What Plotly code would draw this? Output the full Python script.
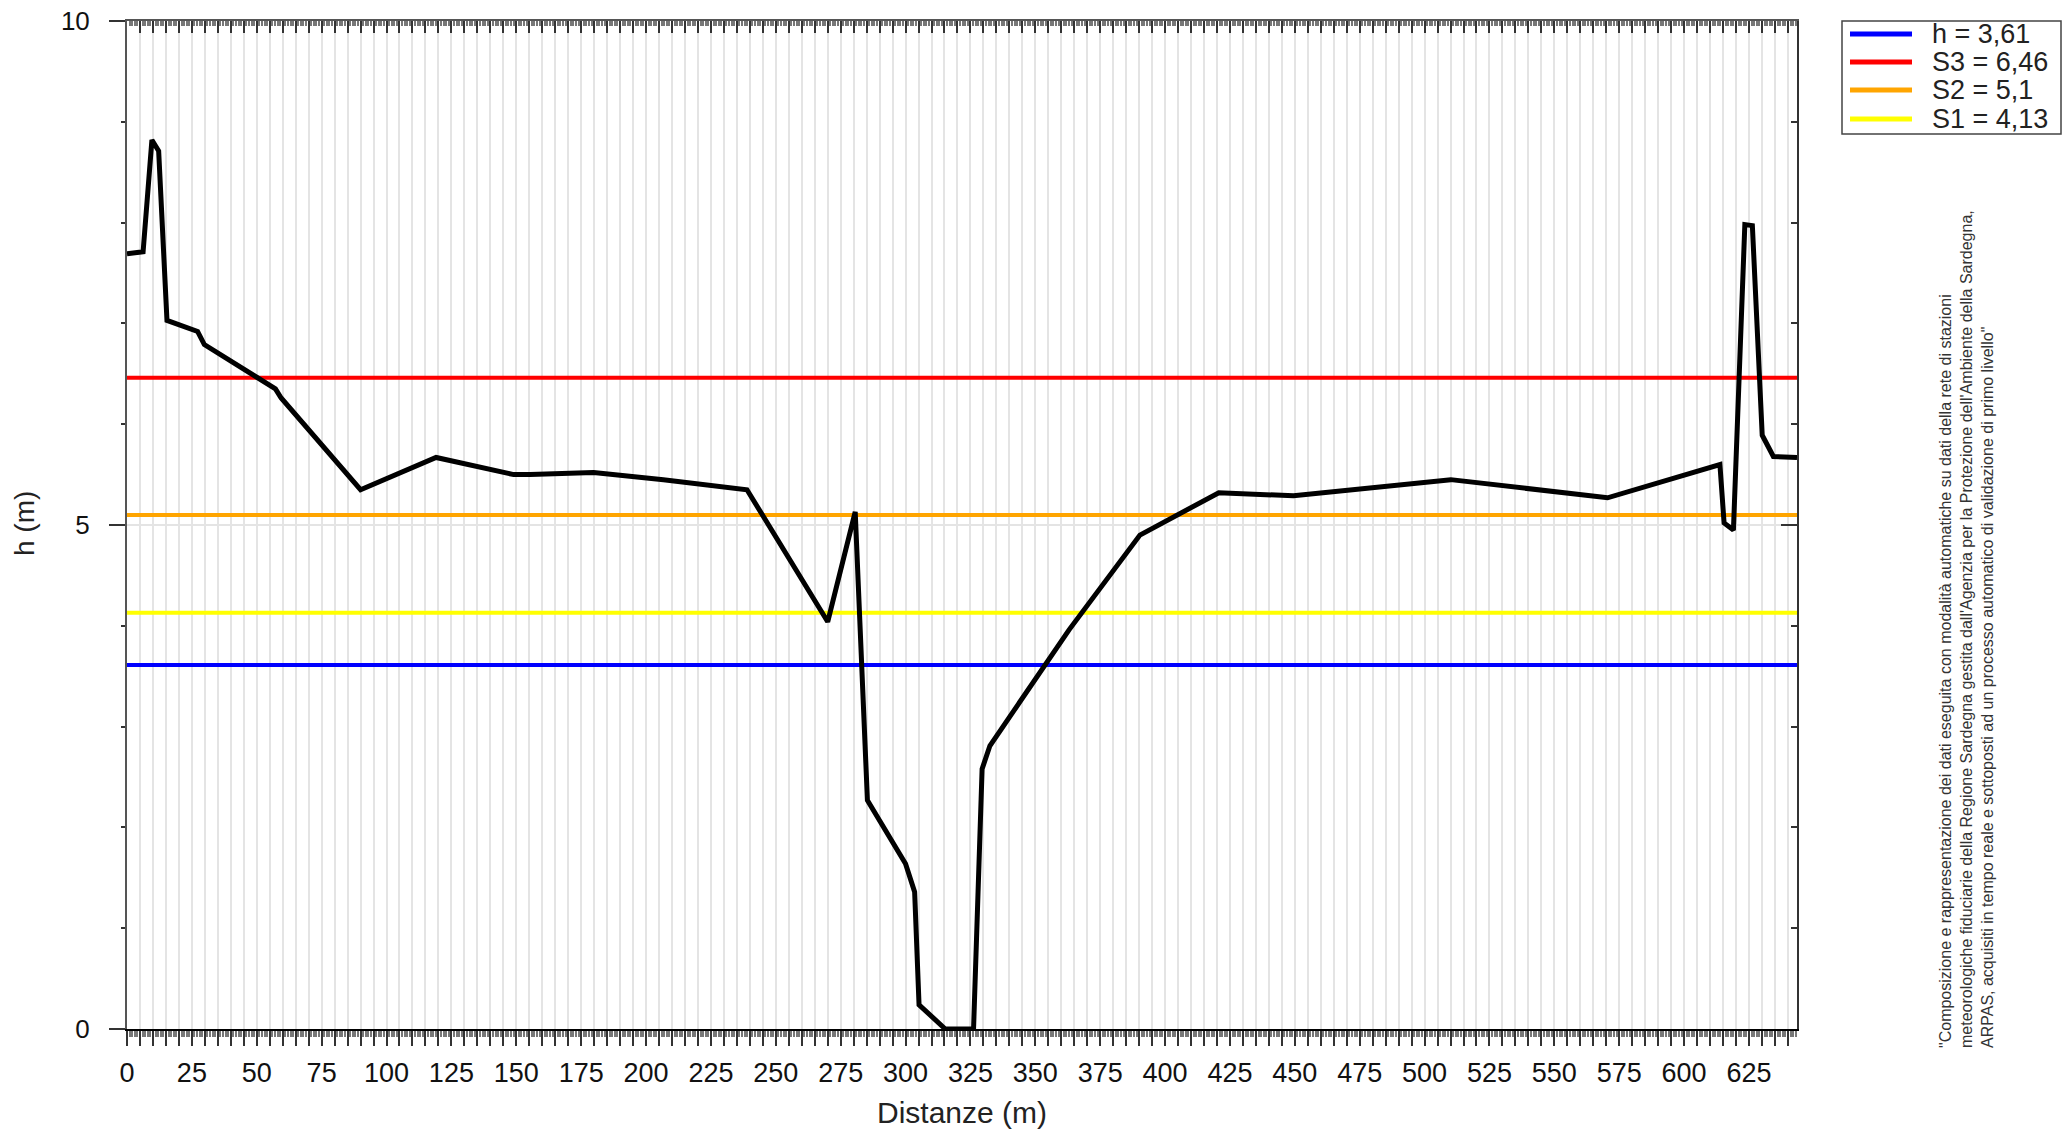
import plotly.graph_objects as go

# ---------------- data ----------------
distanze = [0, 6.2, 9.6, 12.2, 15.4, 27.2, 29.8, 57.2, 59.4, 90.0, 119.1, 149.0,
            155.3, 172.1, 179.8, 206.7, 238.9, 270.0, 280.6, 285.3, 300.0, 303.5,
            305.2, 315.3, 326.2, 329.5, 332.5, 363.0, 390.3, 420.7, 449.5, 510.1,
            570.5, 613.8, 615.4, 619.0, 623.4, 626.3, 630.1, 634.4, 643.5]
quote = [7.69, 7.71, 8.82, 8.71, 7.03, 6.92, 6.79, 6.35, 6.26, 5.35, 5.67, 5.50,
         5.50, 5.51, 5.52, 5.45, 5.35, 4.04, 5.13, 2.27, 1.64, 1.36,
         0.24, 0.0, 0.0, 2.58, 2.81, 3.96, 4.90, 5.32, 5.29, 5.45,
         5.27, 5.60, 5.02, 4.95, 7.98, 7.97, 5.89, 5.68, 5.67]

soglie_nomi = ["h", "S3", "S2", "S1"]
soglie_valori = [3.61, 6.46, 5.1, 4.13]
soglie_colori = ["#0000FF", "#FF0000", "#FFA500", "#FFFF00"]

x_tick_labels = list(range(0, 626, 25))
y_tick_labels = [0, 5, 10]
x_grid_step = 5
x_max = 643.5
y_max = 10

nota = ('"Composizione e rappresentazione dei dati eseguita con modalità automatiche su dati della rete di stazioni<br>'
        "meteorologiche fiduciarie della Regione Sardegna gestita dall'Agenzia per la Protezione dell'Ambiente della Sardegna,<br>"
        'ARPAS, acquisiti in tempo reale e sottoposti ad un processo automatico di validazione di primo livello"')

# ---------------- geometry (reference pixels) ----------------
W, H = 2065, 1130
L, R, T, B = 127, 1797, 21, 1029
PW, PH = R - L, B - T


def px_x(px):
    return (px - L) / PW


def px_y(py):
    return (B - py) / PH


FONT = "Liberation Sans, Arial, sans-serif"

fig = go.Figure()

# threshold lines
for nome, val, col in zip(soglie_nomi, soglie_valori, soglie_colori):
    fig.add_trace(go.Scatter(x=[0, x_max], y=[val, val], mode="lines",
                             line=dict(color=col, width=4), showlegend=False,
                             hoverinfo="skip"))

# profile
fig.add_trace(go.Scatter(x=distanze, y=quote, mode="lines",
                         line=dict(color="black", width=5), showlegend=False))

# dummy trace for top/right axes
fig.add_trace(go.Scatter(x=[0], y=[0], xaxis="x2", yaxis="y2", mode="lines",
                         line=dict(width=0), showlegend=False, hoverinfo="skip"))

x_tickvals = list(range(0, int(x_max) + 1, x_grid_step))
x_ticktext = [str(v) if v in x_tick_labels else "" for v in x_tickvals]

fig.update_layout(
    width=W, height=H,
    margin=dict(l=L, r=W - R, t=T, b=H - B, autoexpand=False),
    paper_bgcolor="white", plot_bgcolor="white",
    font=dict(family=FONT, color="#111111"),
    showlegend=False,
    xaxis=dict(range=[0, x_max], tickmode="array", tickvals=x_tickvals,
               ticktext=x_ticktext, ticks="outside", ticklen=15, tickwidth=1.5,
               tickcolor="#333333", showgrid=True, gridcolor="#e4e4e4", gridwidth=2,
               showline=True, linecolor="black", linewidth=2, zeroline=False,
               tickfont=dict(size=27, family=FONT, color="#111111"),
               ticklabelstandoff=4, automargin=False, ticklabeloverflow="allow",
               minor=dict(dtick=1, tick0=0, ticks="outside", ticklen=6,
                          tickcolor="#777777", tickwidth=1.5, showgrid=False)),
    yaxis=dict(range=[0, y_max], tickmode="array", tickvals=y_tick_labels,
               ticks="outside", ticklen=16, tickwidth=1.5, tickcolor="#333333",
               showgrid=True, gridcolor="#e4e4e4", gridwidth=2,
               showline=True, linecolor="#555555", linewidth=2, zeroline=False,
               tickfont=dict(size=26, family=FONT, color="#111111"),
               ticklabelstandoff=14, automargin=False, ticklabeloverflow="allow",
               minor=dict(dtick=1, tick0=0, ticks="outside", ticklen=4,
                          tickcolor="#333333", tickwidth=1.5, showgrid=False)),
    xaxis2=dict(range=[0, x_max], overlaying="x", side="top", anchor="y2",
                tickmode="array", tickvals=x_tickvals, ticktext=[""] * len(x_tickvals),
                ticks="inside", ticklen=12, tickwidth=1.5, tickcolor="#333333",
                showgrid=False, showline=True, linecolor="#555555", linewidth=2,
                zeroline=False, automargin=False,
                minor=dict(dtick=1, tick0=0, ticks="inside", ticklen=5,
                           tickcolor="#777777", tickwidth=1.5, showgrid=False)),
    yaxis2=dict(range=[0, y_max], overlaying="y", side="right", anchor="x2",
                tickmode="array", tickvals=y_tick_labels, ticktext=["", "", ""],
                ticks="inside", ticklen=16, tickwidth=1.5, tickcolor="#333333",
                showgrid=False, showline=True, linecolor="#333333", linewidth=2,
                zeroline=False, automargin=False,
                minor=dict(dtick=1, tick0=0, ticks="inside", ticklen=6,
                           tickcolor="#333333", tickwidth=1.5, showgrid=False)),
)

# axis titles
fig.add_annotation(text="Distanze (m)", xref="paper", yref="paper",
                   x=0.5, y=px_y(1112), xanchor="center", yanchor="middle",
                   showarrow=False, font=dict(size=30, family=FONT, color="#222222"))
fig.add_annotation(text="h (m)", xref="paper", yref="paper",
                   x=px_x(24), y=px_y(524), xanchor="center", yanchor="middle",
                   textangle=-90, showarrow=False,
                   font=dict(size=28, family=FONT, color="#222222"))

# legend (manual box)
fig.add_shape(type="rect", xref="paper", yref="paper",
              x0=px_x(1842), x1=px_x(2061), y0=px_y(134), y1=px_y(21),
              line=dict(color="#444444", width=1.5), fillcolor="white", layer="above")
row_y = [34, 62, 90, 119]
for nome, val, col, ry in zip(soglie_nomi, soglie_valori, soglie_colori, row_y):
    fig.add_shape(type="line", xref="paper", yref="paper",
                  x0=px_x(1850), x1=px_x(1912), y0=px_y(ry), y1=px_y(ry),
                  line=dict(color=col, width=5), layer="above")
    label = f"{nome} = {str(val).replace('.', ',')}"
    fig.add_annotation(text=label, xref="paper", yref="paper",
                       x=px_x(1930), y=px_y(ry), xanchor="left", yanchor="middle",
                       showarrow=False, font=dict(size=27, family=FONT, color="#222222"))

# rotated note
fig.add_annotation(text=nota, xref="paper", yref="paper",
                   x=px_x(1966), y=px_y(1050), xanchor="center", yanchor="bottom",
                   textangle=-90, align="left", showarrow=False,
                   font=dict(size=16, family=FONT, color="#333333"))

fig.write_html("out.html", config={"displayModeBar": False},
               post_script="document.body.style.margin='0';document.body.style.overflow='hidden';")
